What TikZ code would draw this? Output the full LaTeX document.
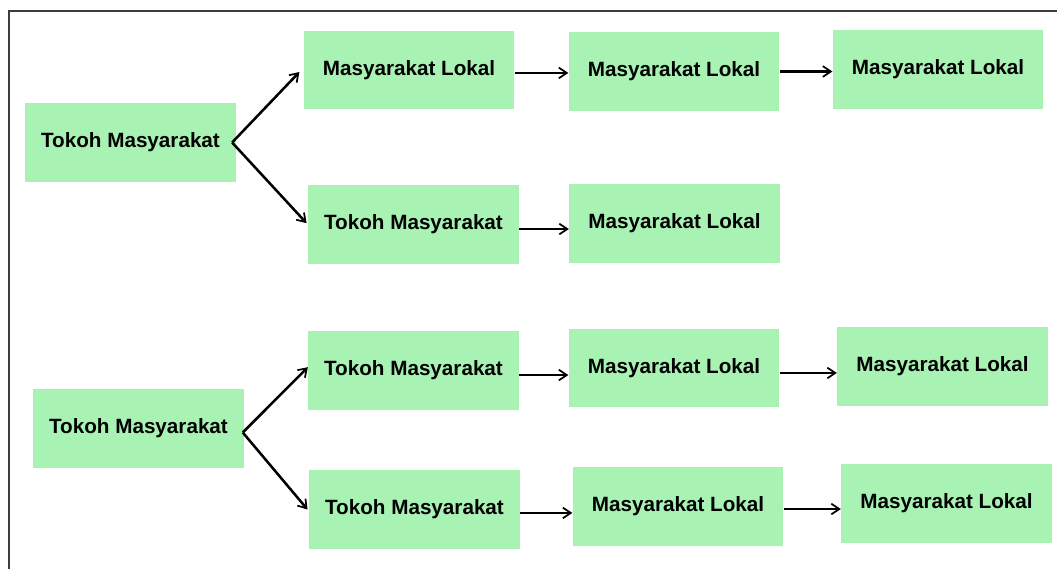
\documentclass[tikz,border=0pt]{standalone}
\usepackage{fontspec}
\setmainfont{Liberation Sans}
\usetikzlibrary{arrows.meta}
\definecolor{boxgreen}{RGB}{168,242,180}
\definecolor{framegray}{RGB}{60,60,60}
\tikzset{
  box/.style={rectangle, fill=boxgreen, draw=none, minimum width=158pt, minimum height=59pt, inner sep=0pt,
    font=\fontsize{15.5}{18}\selectfont\bfseries, text=black},
  arr/.style={draw=black, line width=1.9pt, -{Straight Barb[length=6pt,width=8pt,line width=1.3pt]}},
}
\begin{document}
\begin{tikzpicture}[x=0.75pt,y=-0.75pt]
\useasboundingbox (0,0) rectangle (1057,569);
\draw[framegray, line width=1.3pt] (9,569) -- (9,11) -- (1057,11);
% top group
\node[box] (A1) at (130.5,142.5) {Tokoh Masyarakat};
\node[box] (B1) at (409,70) {Masyarakat Lokal};
\node[box] (C1) at (674,71.5) {Masyarakat Lokal};
\node[box] (D1) at (938,69.5) {Masyarakat Lokal};
\node[box] (B2) at (413.5,224.5) {Tokoh Masyarakat};
\node[box] (C2) at (674.5,223.5) {Masyarakat Lokal};
% bottom group
\node[box] (A3) at (138.5,428.5) {Tokoh Masyarakat};
\node[box] (B3) at (413.5,370.5) {Tokoh Masyarakat};
\node[box] (C3) at (674,368) {Masyarakat Lokal};
\node[box] (D3) at (942.5,366.5) {Masyarakat Lokal};
\node[box] (B4) at (414.5,509.5) {Tokoh Masyarakat};
\node[box] (C4) at (678,506.5) {Masyarakat Lokal};
\node[box] (D4) at (946.5,503.5) {Masyarakat Lokal};
% fork arrows
\draw[arr] ([xshift=-3pt]A1.east) -- ([xshift=-3pt,yshift=-1.5pt]B1.west);
\draw[arr] ([xshift=-3pt]A1.east) -- ([xshift=-1pt,yshift=1pt]B2.west);
\draw[arr] ([xshift=-1pt,yshift=-3pt]A3.east) -- ([yshift=2.5pt]B3.west);
\draw[arr] ([xshift=-1pt,yshift=-3pt]A3.east) -- ([xshift=-1pt]B4.west);
% chain arrows
\draw[arr] ([yshift=-2.2pt]B1.east) -- ([yshift=-2.2pt]B1.east -| C1.west);
\draw[arr] ([yshift=0pt]C1.east) -- ([yshift=0pt]C1.east -| D1.west);
\draw[arr] ([yshift=-3.4pt]B2.east) -- ([yshift=-3.4pt]B2.east -| C2.west);
\draw[arr] ([yshift=-3.4pt]B3.east) -- ([yshift=-3.4pt]B3.east -| C3.west);
\draw[arr] ([yshift=-3.7pt]C3.east) -- ([yshift=-3.7pt]C3.east -| D3.west);
\draw[arr] ([yshift=-2.6pt]B4.east) -- ([yshift=-2.6pt]B4.east -| C4.west);
\draw[arr] ([yshift=-1.9pt]C4.east) -- ([yshift=-1.9pt]C4.east -| D4.west);
\end{tikzpicture}
\end{document}
